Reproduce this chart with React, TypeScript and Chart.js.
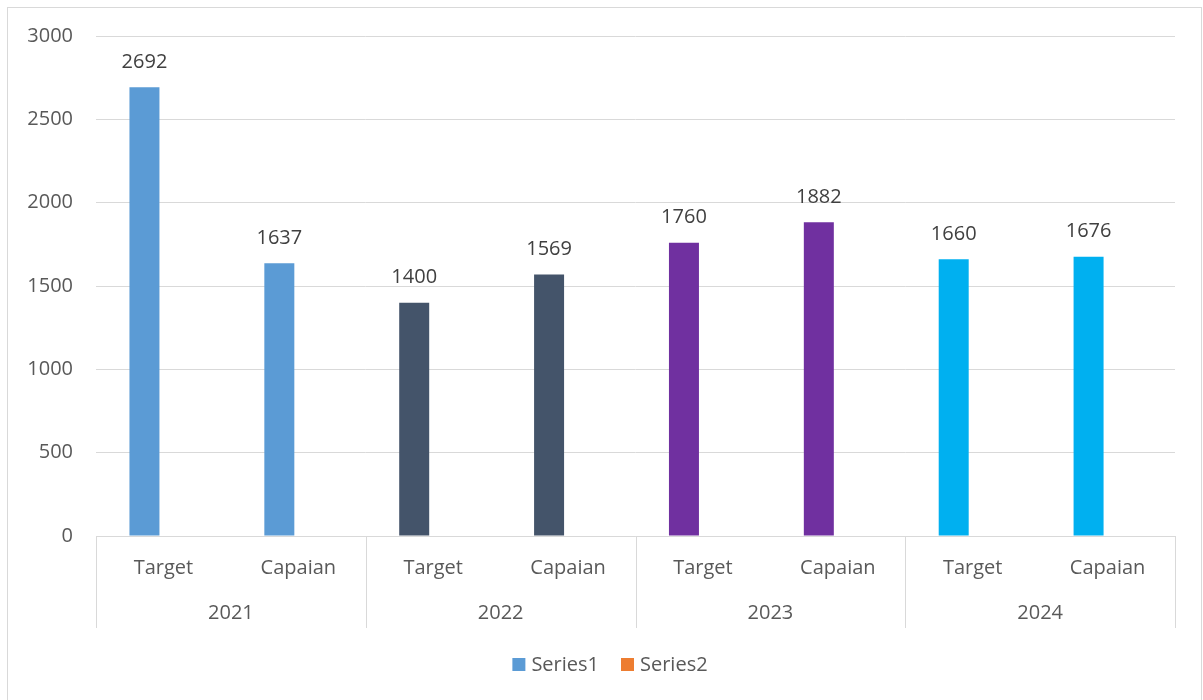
import React, { useEffect, useRef } from "react";
import { Chart, registerables } from "chart.js";

Chart.register(...registerables);

// ---- data ----
const years = ["2021", "2022", "2023", "2024"];
const categories = ["Target", "Capaian", "Target", "Capaian", "Target", "Capaian", "Target", "Capaian"];
const series1 = [2692, 1637, 1400, 1569, 1760, 1882, 1660, 1676];
const series2: (number | null)[] = [null, null, null, null, null, null, null, null];
const yearColors = ["#5B9BD5", "#44546A", "#7030A0", "#00B0F0"];
const series2Color = "#ED7D31";
const yMin = 0;
const yMax = 3000;
const yStep = 500;

const FONT = "'Open Sans', sans-serif";
const TEXT = "#595959";
const LINE = "#D9D9D9";

const series1Colors = categories.map((_, i) => yearColors[Math.floor(i / 2)]);

const decorPlugin = {
  id: "decor",
  afterDraw(chart: any) {
    const ctx = chart.ctx;
    const area = chart.chartArea;
    const xs = chart.scales.x;
    const n = categories.length;
    const catW = (area.right - area.left) / n;
    ctx.save();
    // axis line
    ctx.strokeStyle = LINE;
    ctx.lineWidth = 1;
    ctx.beginPath();
    ctx.moveTo(area.left, Math.round(area.bottom) + 0.5);
    ctx.lineTo(area.right, Math.round(area.bottom) + 0.5);
    // group separators
    const tableBottom = area.bottom + 92;
    for (let g = 0; g <= years.length; g++) {
      const idx = Math.min(g * 2, n - 1);
      const px = g * 2 < n ? xs.getPixelForValue(idx) - catW / 2 : xs.getPixelForValue(n - 1) + catW / 2;
      const x = Math.round(px) + 0.5;
      ctx.moveTo(x, area.bottom);
      ctx.lineTo(x, tableBottom);
    }
    ctx.stroke();
    // year labels
    ctx.fillStyle = TEXT;
    ctx.font = `20px ${FONT}`;
    ctx.textAlign = "center";
    ctx.textBaseline = "middle";
    years.forEach((y, g) => {
      const cx = (xs.getPixelForValue(g * 2) + xs.getPixelForValue(g * 2 + 1)) / 2;
      ctx.fillText(y, cx, area.bottom + 77);
    });
    // data labels
    const meta = chart.getDatasetMeta(0);
    ctx.fillStyle = "#404040";
    meta.data.forEach((bar: any, i: number) => {
      ctx.fillText(String(series1[i]), bar.x, bar.y - 25);
    });
    // legend
    const items = chart.data.datasets.map((d: any, i: number) => ({
      label: d.label,
      color: i === 0 ? yearColors[0] : series2Color,
    }));
    ctx.textAlign = "left";
    const box = 13;
    const gapBoxText = 6;
    const gapItems = 22;
    const widths = items.map((it: any) => box + gapBoxText + ctx.measureText(it.label).width);
    const total = widths.reduce((a: number, b: number) => a + b, 0) + gapItems * (items.length - 1);
    let x = 610 - total / 2;
    const cy = 665;
    items.forEach((it: any, i: number) => {
      ctx.fillStyle = it.color;
      ctx.fillRect(x, cy - 7, box, box);
      ctx.fillStyle = TEXT;
      ctx.fillText(it.label, x + box + gapBoxText, cy);
      x += widths[i] + gapItems;
    });
    ctx.restore();
  },
};

export default function App() {
  const ref = useRef<HTMLCanvasElement>(null);
  useEffect(() => {
    if (!ref.current) return;
    const chart = new Chart(ref.current, {
      type: "bar",
      data: {
        labels: categories,
        datasets: [
          {
            label: "Series1",
            data: series1,
            backgroundColor: series1Colors,
            categoryPercentage: 0.563,
            barPercentage: 0.79,
          },
          {
            label: "Series2",
            data: series2,
            backgroundColor: series2Color,
            categoryPercentage: 0.563,
            barPercentage: 0.79,
          },
        ],
      },
      options: {
        responsive: false,
        animation: false,
        layout: { padding: { left: 0, top: 36, right: 28, bottom: 0 } },
        plugins: {
          legend: { display: false },
          tooltip: { enabled: false },
        },
        scales: {
          x: {
            grid: { display: false },
            border: { display: false },
            ticks: {
              color: TEXT,
              font: { family: FONT, size: 20 },
              padding: 12,
              maxRotation: 0,
              autoSkip: false,
            },
            afterFit: (s: any) => {
              s.height = 164;
            },
          },
          y: {
            min: yMin,
            max: yMax,
            grid: { color: LINE, lineWidth: 1, drawTicks: false },
            border: { display: false },
            ticks: {
              stepSize: yStep,
              color: TEXT,
              font: { family: FONT, size: 20 },
              padding: 23,
              callback: (v: any) => String(v),
            },
            afterFit: (s: any) => {
              s.width = 96;
            },
          },
        },
      },
      plugins: [decorPlugin],
    });
    return () => chart.destroy();
  }, []);
  return (
    <div style={{ position: "fixed", left: 0, top: 0, width: 1203, height: 700, background: "#fff" }}>
      <div
        style={{
          position: "absolute",
          left: 7,
          top: 7,
          width: 1193,
          height: 720,
          border: `1px solid ${LINE}`,
        }}
      />
      <canvas ref={ref} width={1203} height={700} style={{ position: "absolute", left: 0, top: 0 }} />
    </div>
  );
}
